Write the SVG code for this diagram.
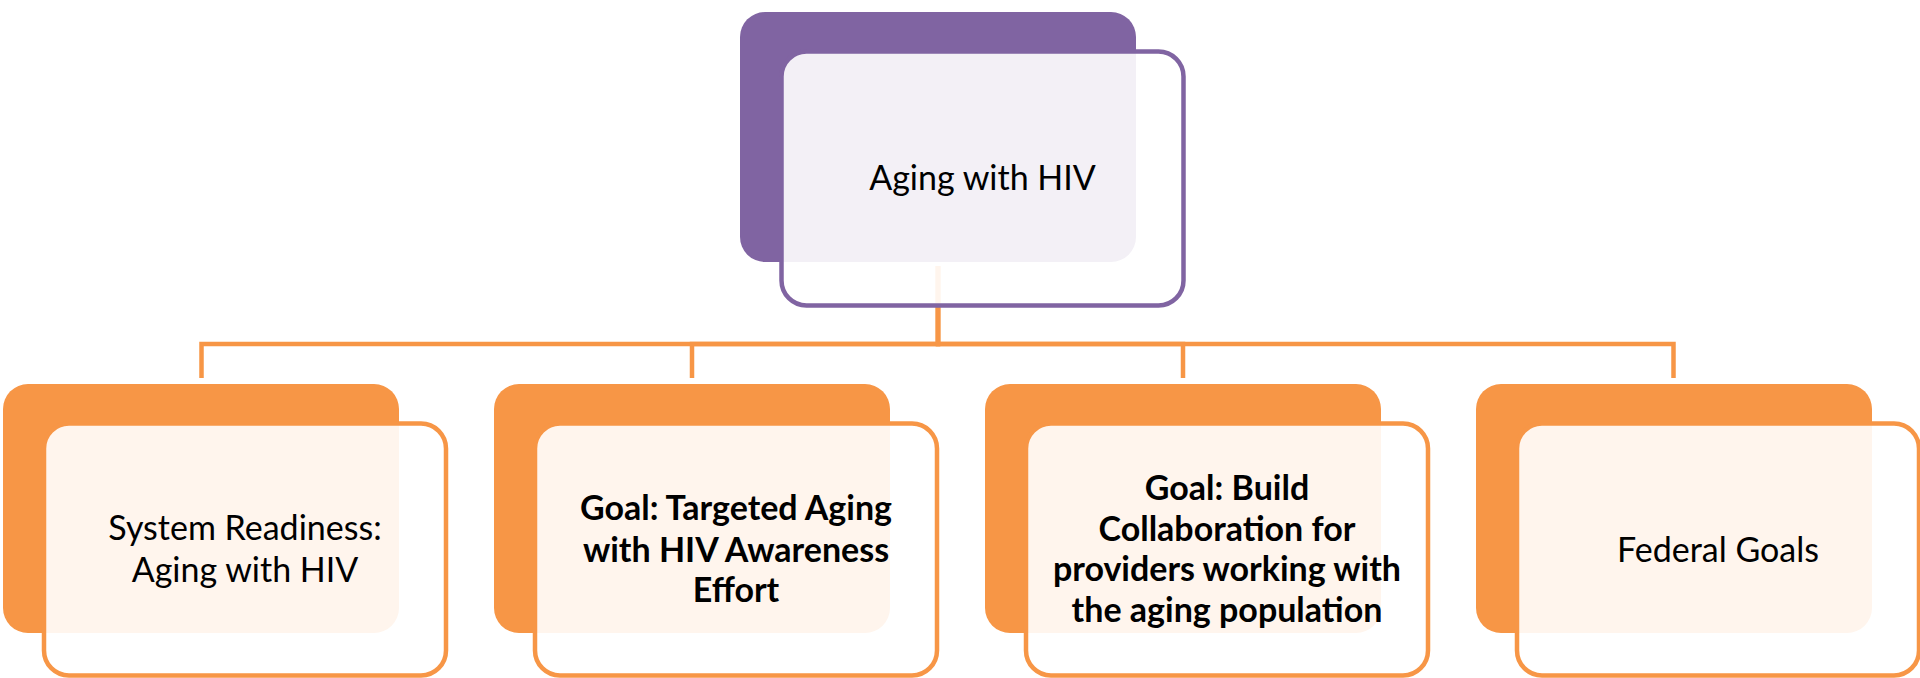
<svg xmlns="http://www.w3.org/2000/svg" width="1920" height="678" viewBox="0 0 1920 678">
<style>
  .back-p { fill: #8064A2; }
  .front-p { fill: #ffffff; fill-opacity: 0.9; stroke: #8064A2; stroke-width: 4.5; }
  .back-o { fill: #F79646; }
  .front-o { fill: #ffffff; fill-opacity: 0.9; stroke: #F79646; stroke-width: 4.5; }
  .conn { fill: none; stroke: #F79646; stroke-width: 4.5; stroke-linejoin: miter; }
  .t { font-family: Lato, "Open Sans", sans-serif; font-size: 34px; fill: #000000; text-anchor: middle; }
  .b { font-weight: bold; }
</style>
<rect width="1920" height="678" fill="#ffffff"/>
<g id="connectors">
  <path class="conn" d="M938,266 V344 H201.5 V378"/>
  <path class="conn" d="M938,266 V344 H692 V378"/>
  <path class="conn" d="M938,266 V344 H1183 V378"/>
  <path class="conn" d="M938,266 V344 H1673.5 V378"/>
</g>
<g id="node-aging">
  <rect class="back-p" x="740" y="12" width="396" height="250" rx="25"/>
  <rect class="front-p" x="781.5" y="51.5" width="402" height="254" rx="25"/>
  <text class="t" x="982.5" y="190">Aging with HIV</text>
</g>
<g id="node-system">
  <rect class="back-o" x="3" y="384" width="396" height="249" rx="25"/>
  <rect class="front-o" x="44" y="423.5" width="402" height="252" rx="25"/>
  <text class="t" x="245" y="540">System Readiness:</text>
  <text class="t" x="245" y="581.7">Aging with HIV</text>
</g>
<g id="node-targeted">
  <rect class="back-o" x="494" y="384" width="396" height="249" rx="25"/>
  <rect class="front-o" x="535" y="423.5" width="402" height="252" rx="25"/>
  <text class="t b" x="736" y="520">Goal: Targeted Aging</text>
  <text class="t b" x="736" y="561.5">with HIV Awareness</text>
  <text class="t b" x="736" y="601.7">Effort</text>
</g>
<g id="node-collab">
  <rect class="back-o" x="985" y="384" width="396" height="249" rx="25"/>
  <rect class="front-o" x="1026" y="423.5" width="402" height="252" rx="25"/>
  <text class="t b" x="1227" y="500">Goal: Build</text>
  <text class="t b" x="1227" y="540.5">Collaboration for</text>
  <text class="t b" x="1227" y="581">providers working with</text>
  <text class="t b" x="1227" y="621.5">the aging population</text>
</g>
<g id="node-federal">
  <rect class="back-o" x="1476" y="384" width="396" height="249" rx="25"/>
  <rect class="front-o" x="1517" y="423.5" width="402" height="252" rx="25"/>
  <text class="t" x="1718" y="561.7">Federal Goals</text>
</g>
</svg>
